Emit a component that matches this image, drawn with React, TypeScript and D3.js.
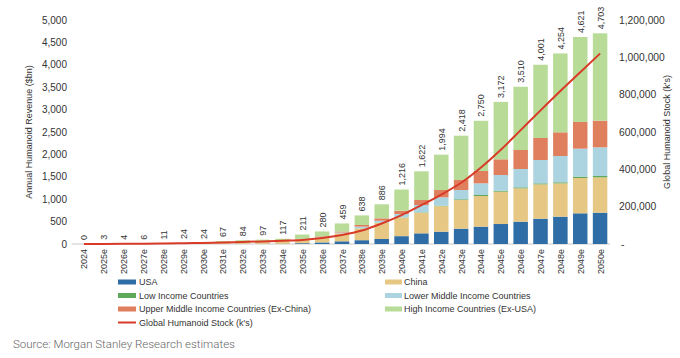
import React from "react";
import * as d3 from "d3";

const years = ["2024","2025e","2026e","2027e","2028e","2029e","2030e","2031e","2032e","2033e","2034e","2035e","2036e","2037e","2038e","2039e","2040e","2041e","2042e","2043e","2044e","2045e","2046e","2047e","2048e","2049e","2050e"];
const totals = [0,3,4,6,11,24,24,67,84,97,117,211,280,459,638,886,1216,1622,1994,2418,2750,3172,3510,4001,4254,4621,4703];
const usa =        [0,0,0,0,0,1,1,3,4,5,6,18,35,60,85,112,175,238,275,342,387,446,498,565,610,685,699];
const china =      [0,2,3,4,7,15,15,42,50,56,64,80,105,175,262,360,415,460,570,640,684,722,745,767,744,788,789];
const lowIncome =  [0,0,0,0,0,0,0,0,0,0,0,0,1,2,3,4,5,9,10,16,23,22,22,22,23,30,30];
const lowerMiddle =[0,0,0,0,0,0,0,2,3,3,4,6,12,20,37,44,75,164,187,207,260,350,409,521,587,625,640];
const upperMiddle =[0,0,0,0,0,0,0,4,5,6,7,10,15,22,37,53,73,111,163,224,275,350,424,491,529,595,595];
const highIncome = [0,1,1,2,4,8,8,16,22,27,36,97,112,180,214,313,473,640,789,989,1121,1282,1412,1635,1761,1898,1950];
const stock =      [0,500,1000,1500,2500,4000,6000,8000,11000,14000,18000,22000,32000,48000,72000,110000,155000,208000,265000,328000,410000,505000,610000,716000,820000,920000,1020000];
const leftTicks = [0,500,1000,1500,2000,2500,3000,3500,4000,4500,5000];
const rightTicks = [0,200000,400000,600000,800000,1000000,1200000];

const seriesNames = ["USA","China","Low Income Countries","Lower Middle Income Countries","Upper Middle Income Countries (Ex-China)","High Income Countries (Ex-USA)"];
const seriesData = [usa, china, lowIncome, lowerMiddle, upperMiddle, highIncome];
const colors = ["#2f6da6","#e6c884","#5fa85a","#acd4e0","#df7f5e","#b8dc97"];
const lineName = "Global Humanoid Stock (k's)";
const lineColor = "#d83b27";

const FONT = "'Liberation Sans', Arial, sans-serif";
const TXT = "#333";

export default function App() {
  const W = 680, H = 358;
  const x = d3.scaleBand<string>().domain(years).range([74, 610]).paddingInner(0.27).paddingOuter(0.135);
  const y = d3.scaleLinear().domain([0, 5000]).range([244, 20]);
  const y2 = d3.scaleLinear().domain([0, 1200000]).range([244, 20]);

  const rows = years.map((yr, i) => {
    const o: any = { year: yr };
    seriesNames.forEach((n, k) => (o[n] = seriesData[k][i]));
    return o;
  });
  const stacked = d3.stack<any>().keys(seriesNames)(rows);

  const line = d3.line<number>()
    .x((_, i) => (x(years[i]) as number) + x.bandwidth() / 2)
    .y((v) => y2(v))
    .curve(d3.curveMonotoneX);

  const fmt = d3.format(",");
  const bw = x.bandwidth();

  const legendLeft = [
    { name: seriesNames[0], color: colors[0] },
    { name: seriesNames[2], color: colors[2] },
    { name: seriesNames[4], color: colors[4] },
  ];
  const legendRight = [
    { name: seriesNames[1], color: colors[1] },
    { name: seriesNames[3], color: colors[3] },
    { name: seriesNames[5], color: colors[5] },
  ];
  const rowY = [282, 295.5, 309, 322.5];

  return (
    <svg width={W} height={H} style={{ position: "absolute", left: 0, top: 0, background: "#fff" }} fontFamily={FONT}>
      <rect x={0} y={0} width={W} height={H} fill="#fff" />
      <line x1={72} x2={610} y1={y(0)} y2={y(0)} stroke="#c8c8c8" strokeWidth={1} />
      {leftTicks.map((t) => (
        <text key={"l" + t} x={67} y={y(t)} textAnchor="end" dominantBaseline="central" fontSize={10} fill={TXT}>{fmt(t)}</text>
      ))}
      {rightTicks.map((t) => (
        <text key={"r" + t} x={t === 0 ? 621 : 619} y={y2(t)} textAnchor="start" dominantBaseline="central" fontSize={10.3} fill={TXT}>{t === 0 ? "-" : fmt(t)}</text>
      ))}
      <text transform={`translate(29,132) rotate(-90)`} textAnchor="middle" dominantBaseline="central" fontSize={9} fill={TXT}>Annual Humanoid Revenue ($bn)</text>
      <text transform={`translate(667,132) rotate(-90)`} textAnchor="middle" dominantBaseline="central" fontSize={9} fill={TXT}>{lineName}</text>
      {stacked.map((s, k) => (
        <g key={s.key} fill={colors[k]}>
          {s.map((d, i) => {
            const h = y(d[0]) - y(d[1]);
            if (h <= 0) return null;
            return <rect key={i} x={x(years[i])} y={y(d[1])} width={bw} height={h} />;
          })}
        </g>
      ))}
      <path d={line(stock) || ""} fill="none" stroke={lineColor} strokeWidth={2} />
      {totals.map((t, i) => {
        const cx = (x(years[i]) as number) + bw / 2;
        return (
          <text key={"b" + i} transform={`translate(${cx + 0.5},${y(t) - 4}) rotate(-90)`} textAnchor="start" dominantBaseline="central" fontSize={9} fill={TXT}>{fmt(t)}</text>
        );
      })}
      {years.map((yr) => {
        const cx = (x(yr) as number) + bw / 2;
        return (
          <text key={"x" + yr} transform={`translate(${cx + 0.5},249) rotate(-90)`} textAnchor="end" dominantBaseline="central" fontSize={9} fill={TXT}>{yr}</text>
        );
      })}
      {legendLeft.map((l, i) => (
        <g key={"ll" + i}>
          <rect x={118} y={rowY[i] - 2.5} width={18} height={5} fill={l.color} />
          <text x={139} y={rowY[i]} dominantBaseline="central" fontSize={9} fill={TXT}>{l.name}</text>
        </g>
      ))}
      {legendRight.map((l, i) => (
        <g key={"lr" + i}>
          <rect x={385} y={rowY[i] - 2.5} width={17} height={5} fill={l.color} />
          <text x={404} y={rowY[i]} dominantBaseline="central" fontSize={9} fill={TXT}>{l.name}</text>
        </g>
      ))}
      <line x1={118} x2={136} y1={rowY[3]} y2={rowY[3]} stroke={lineColor} strokeWidth={2} />
      <text x={139} y={rowY[3]} dominantBaseline="central" fontSize={9} fill={TXT}>{lineName}</text>
      <text x={13} y={348} fontFamily="Roboto, sans-serif" fontWeight={300} fontSize={11.5} fill="#666">Source: Morgan Stanley Research estimates</text>
    </svg>
  );
}
